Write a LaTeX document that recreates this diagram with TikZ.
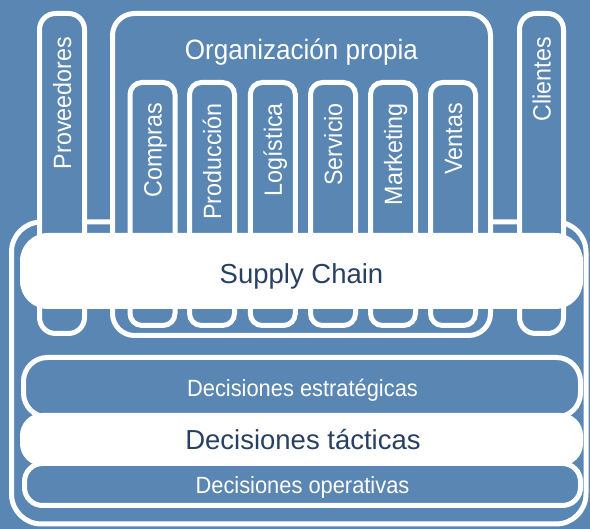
\documentclass[tikz,border=0pt]{standalone}
\usepackage{fontspec}
\setmainfont{Liberation Sans}
\newfontfamily\narrowsf[FakeStretch=0.93]{Liberation Sans}
\definecolor{steel}{RGB}{89,134,178}
\definecolor{navytext}{RGB}{40,65,98}

\begin{document}
\begin{tikzpicture}[
    x=1pt, y=-1pt,
    panel/.style={draw=white, line width=5pt, fill=steel, inner sep=0pt},
    whitepanel/.style={draw=white, line width=5pt, fill=white, inner sep=0pt},
    collabel/.style={rotate=90, anchor=base east, inner sep=0pt, text=white,
        font=\narrowsf\fontsize{25}{25}\selectfont},
    whitelabel/.style={anchor=base, inner sep=0pt, text=white,
        font=\narrowsf\fontsize{23.5}{24}\selectfont},
    darklabel/.style={anchor=base, inner sep=0pt, text=navytext,
        font=\fontsize{27.5}{28}\selectfont}
]
    % Background
    \fill[steel] (0,0) rectangle (590,529);
    \useasboundingbox (0,0) rectangle (590,529);

    % Outer frame
    \node[panel, rounded corners=30pt, minimum width=574.5pt, minimum height=302pt] (frame) at (298.75,373) {};

    % Partners and own organization
    \node[panel, rounded corners=16pt, minimum width=45pt, minimum height=320pt] (prov) at (62,173.5) {};
    \node[panel, rounded corners=22pt, minimum width=378pt, minimum height=322pt] (org) at (301.5,174.5) {};
    \node[panel, rounded corners=16pt, minimum width=44pt, minimum height=320pt] (cli) at (541.5,173.5) {};
    \node[collabel] (provtext) at (71,37) {Proveedores};
    \node[collabel] (clitext) at (550.5,37) {Clientes};
    \node[anchor=base, inner sep=0pt, text=white, font=\narrowsf\fontsize{28}{28}\selectfont]
        (orgtext) at (301.5,60) {Organización propia};

    % Functions
    \node[panel, rounded corners=12pt, minimum width=45pt, minimum height=243pt] (compras) at (152.5,204) {};
    \node[panel, rounded corners=12pt, minimum width=45pt, minimum height=243pt] (prod) at (212,204) {};
    \node[panel, rounded corners=12pt, minimum width=45pt, minimum height=243pt] (logi) at (272.8,204) {};
    \node[panel, rounded corners=12pt, minimum width=45pt, minimum height=243pt] (serv) at (333,204) {};
    \node[panel, rounded corners=12pt, minimum width=45pt, minimum height=243pt] (mark) at (393,204) {};
    \node[panel, rounded corners=12pt, minimum width=45pt, minimum height=243pt] (vent) at (453,204) {};
    \node[collabel] (comprastext) at (161.5,103) {Compras};
    \node[collabel] (prodtext) at (221,103) {Producción};
    \node[collabel] (logitext) at (281.8,103) {Logística};
    \node[collabel] (servtext) at (342,103) {Servicio};
    \node[collabel] (marktext) at (402,103) {Marketing};
    \node[collabel] (venttext) at (462,103) {Ventas};

    % Supply chain band
    \node[fill=white, rounded corners=28pt, inner sep=0pt, minimum width=563pt, minimum height=76pt] (sc) at (301.5,271) {};
    \node[darklabel] (sctext) at (301.5,284) {Supply Chain};

    % Decision levels
    \node[panel, rounded corners=24pt, minimum width=557pt, minimum height=59.5pt] (estr) at (302,387.25) {};
    \node[whitepanel, rounded corners=20pt, minimum width=558pt, minimum height=48pt] (tact) at (301.5,439.5) {};
    \node[panel, rounded corners=18pt, minimum width=556pt, minimum height=42pt] (oper) at (302.5,484.5) {};
    \node[whitelabel] (estrtext) at (302.5,397) {Decisiones estratégicas};
    \node[darklabel] (tacttext) at (303,450) {Decisiones tácticas};
    \node[whitelabel] (opertext) at (302.5,494) {Decisiones operativas};
\end{tikzpicture}
\end{document}
